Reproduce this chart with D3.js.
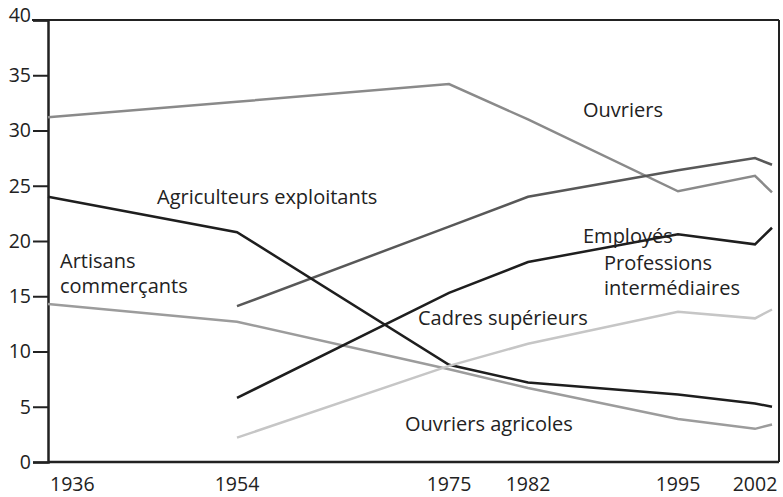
<!DOCTYPE html>
<html>
<head>
<meta charset="utf-8">
<script src="https://cdn.jsdelivr.net/npm/d3@7"></script>
<style>
  body { margin: 0; background: #fff; }
  svg text { font-family: "Open Sans", sans-serif; fill: #222; }
</style>
</head>
<body>
<div id="chart"></div>
<script>
// years on the horizontal axis (last point drawn just after 2002)
const years = [1936, 1954, 1975, 1982, 1995, 2002, 2004];
const yearTicks = [1936, 1954, 1975, 1982, 1995, 2002];
const yTicks = [0, 5, 10, 15, 20, 25, 30, 35, 40];

// share of the working population, %
const ouvriers       = [31.2, 32.6, 34.2, 31.0, 24.5, 25.9, 24.4];
const employes       = [null, 14.1, 21.3, 24.0, 26.4, 27.5, 26.9];
const agriculteurs   = [24.0, 20.8, 8.8, 7.2, 6.1, 5.3, 5.0];
const artisans       = [14.3, 12.7, 8.4, 6.7, 3.9, 3.0, 3.4];
const professions    = [null, 5.8, 15.3, 18.1, 20.6, 19.7, 21.2];
const cadres         = [null, 2.2, 8.7, 10.7, 13.6, 13.0, 13.8];

const series = [
  { values: ouvriers, color: "#8a8a8a" },
  { values: employes, color: "#585858" },
  { values: agriculteurs, color: "#1e1e1e" },
  { values: artisans, color: "#9c9c9c" },
  { values: professions, color: "#1e1e1e" },
  { values: cadres, color: "#c6c6c6" }
];

const labels = [
  { lines: ["Ouvriers"], x: 583, y: 117 },
  { lines: ["Agriculteurs exploitants"], x: 157, y: 204 },
  { lines: ["Employés"], x: 583, y: 243 },
  { lines: ["Artisans", "commerçants"], x: 60, y: 268 },
  { lines: ["Professions", "intermédiaires"], x: 604, y: 270 },
  { lines: ["Cadres supérieurs"], x: 418, y: 325 },
  { lines: ["Ouvriers agricoles"], x: 405, y: 431 }
];

const width = 783, height = 497;

const svg = d3.select("#chart")
  .append("svg")
  .attr("width", width)
  .attr("height", height);

// uneven spacing of the years as drawn in the original
let x = d3.scaleLinear()
  .domain(years)
  .range([48, 237, 449, 528, 678, 755, 772]);

let y = d3.scaleLinear()
  .domain([0, 40])
  .range([462, 20]);

const ink = "#222";

/* ------------------ frame ------------------ */
svg.append("line")
  .attr("x1", 32).attr("x2", 779)
  .attr("y1", y(40)).attr("y2", y(40))
  .attr("stroke", ink).attr("stroke-width", 2);
svg.append("line")
  .attr("x1", 779).attr("x2", 779)
  .attr("y1", y(40)).attr("y2", y(0))
  .attr("stroke", ink).attr("stroke-width", 2);
svg.append("line")
  .attr("x1", 48).attr("x2", 779)
  .attr("y1", y(0)).attr("y2", y(0))
  .attr("stroke", ink).attr("stroke-width", 2.5);

/* ------------------ y axis ------------------ */
let yAxis = svg.append("g")
  .attr("transform", "translate(48,0)")
  .call(d3.axisLeft(y).tickValues(yTicks).tickSize(15).tickPadding(2));
yAxis.select(".domain").attr("stroke", ink).attr("stroke-width", 2.5);
yAxis.selectAll(".tick line").attr("stroke", ink).attr("stroke-width", 2);
yAxis.selectAll(".tick text")
  .style("font-family", "Open Sans, sans-serif")
  .style("font-size", "19.5px")
  .attr("fill", "#222");
yAxis.selectAll(".tick").filter(d => d === 40).select("text").attr("dy", "0.1em");

/* ------------------ x labels ------------------ */
svg.append("g")
  .selectAll("text")
  .data(yearTicks)
  .enter()
  .append("text")
  .attr("x", d => x(d))
  .attr("y", 491)
  .attr("text-anchor", (d, i) => i === 0 ? "start" : "middle")
  .attr("dx", (d, i) => i === 0 ? 2 : 0)
  .style("font-size", "19.5px")
  .text(d => d);

/* ------------------ lines ------------------ */
let line = d3.line()
  .defined(d => d[1] !== null)
  .x(d => x(d[0]))
  .y(d => y(d[1]));

svg.append("g")
  .selectAll("path")
  .data(series)
  .enter()
  .append("path")
  .attr("fill", "none")
  .attr("stroke", d => d.color)
  .attr("stroke-width", 2.5)
  .attr("stroke-linejoin", "miter")
  .attr("d", d => line(years.map((yr, i) => [yr, d.values[i]])));

/* ------------------ labels ------------------ */
// one text per line so the two-line labels keep their own boxes
let labelLines = [];
labels.forEach(d => d.lines.forEach((t, i) => labelLines.push({ t: t, x: d.x, y: d.y + i * 25 })));

svg.append("g")
  .selectAll("text")
  .data(labelLines)
  .enter()
  .append("text")
  .attr("x", d => d.x)
  .attr("y", d => d.y)
  .style("font-size", "20px")
  .text(d => d.t);
</script>
</body>
</html>
